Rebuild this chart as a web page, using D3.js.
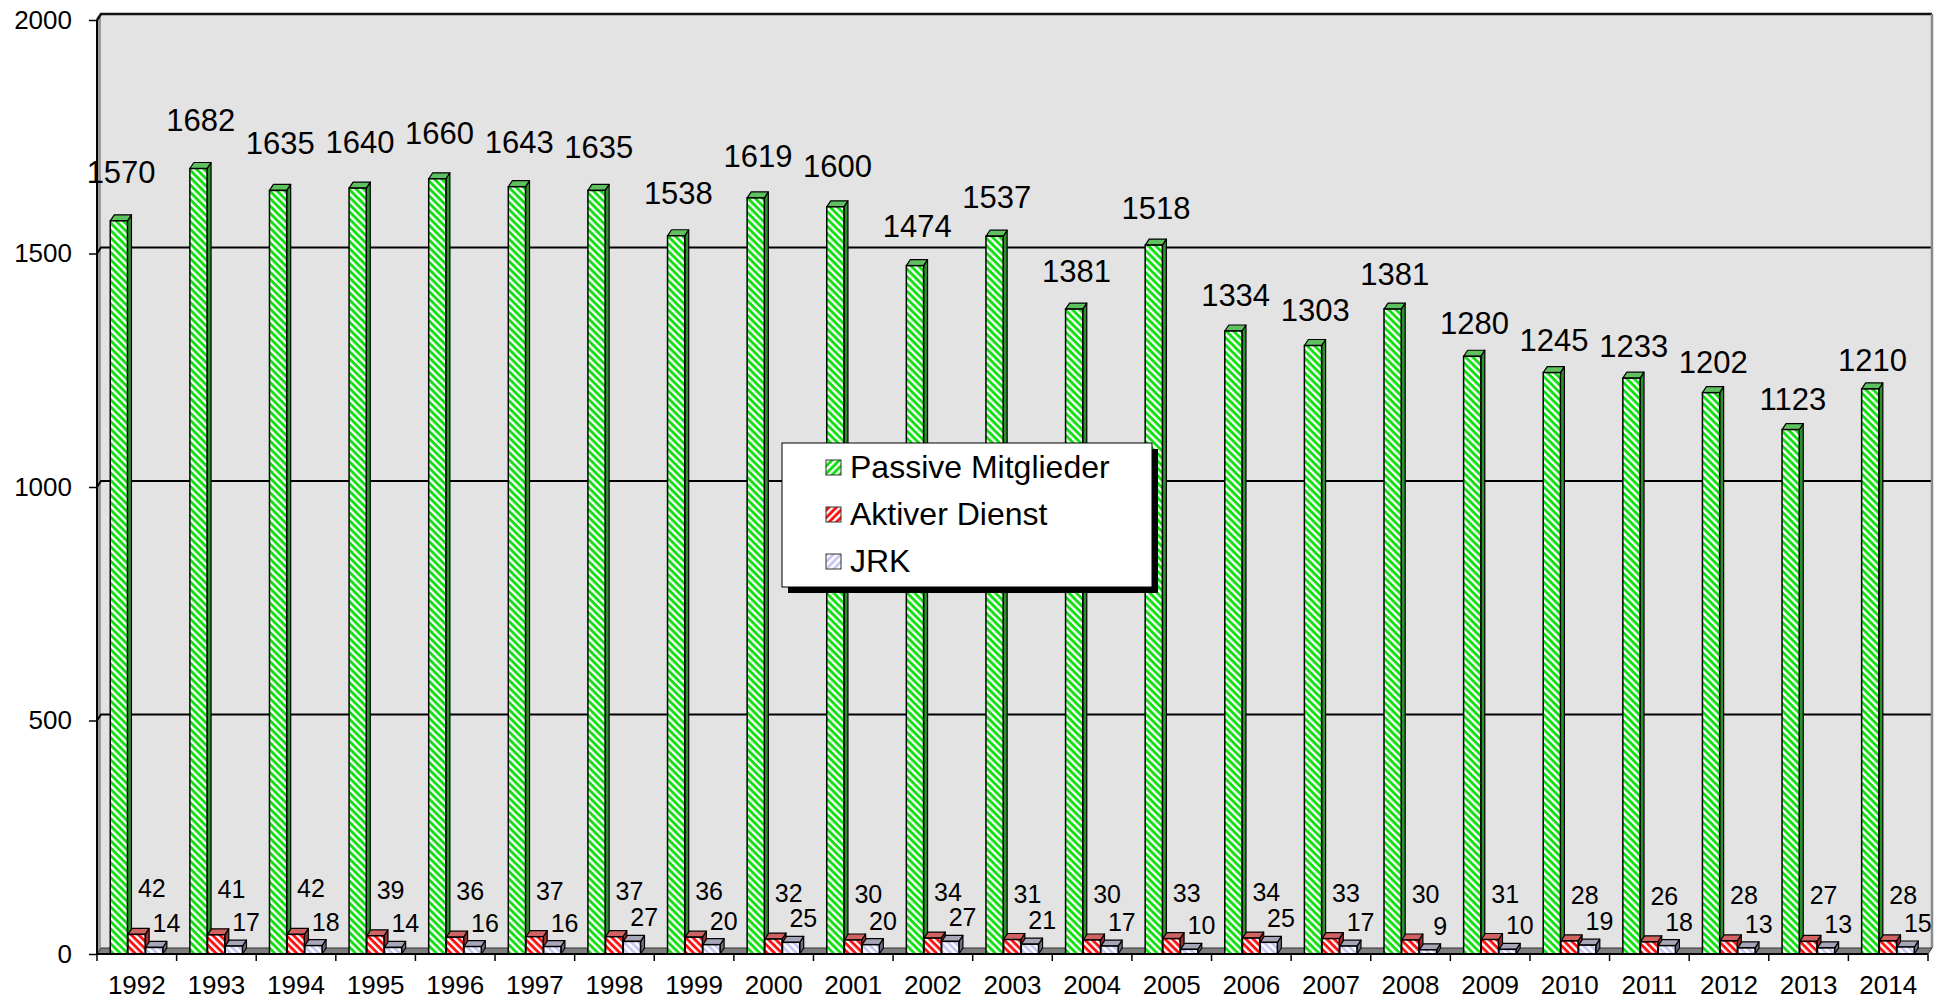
<!DOCTYPE html>
<html>
<head>
<meta charset="utf-8">
<script src="https://cdn.jsdelivr.net/npm/d3@7"></script>
<style>
  html, body { margin: 0; padding: 0; background: #ffffff; }
  svg { display: block; font-family: "Liberation Sans", Arial, sans-serif; }
</style>
</head>
<body>
<svg id="chart" width="1941" height="999"></svg>
<script>
const years = ["1992","1993","1994","1995","1996","1997","1998","1999","2000","2001","2002","2003","2004","2005","2006","2007","2008","2009","2010","2011","2012","2013","2014"];
const passive = [1570,1682,1635,1640,1660,1643,1635,1538,1619,1600,1474,1537,1381,1518,1334,1303,1381,1280,1245,1233,1202,1123,1210];
const aktiv = [42,41,42,39,36,37,37,36,32,30,34,31,30,33,34,33,30,31,28,26,28,27,28];
const jrk = [14,17,18,14,16,16,27,20,25,20,27,21,17,10,25,17,9,10,19,18,13,13,15];
const seriesNames = ["Passive Mitglieder","Aktiver Dienst","JRK"];
const yTicks = [0,500,1000,1500,2000];

const seriesValues = [passive, aktiv, jrk];
const seriesStyle = [
  {base:"#10e010", top:"#5fc05f", side:"#2f8f2f", labelSize:31, ldx:2,  gap: i => 38 - 0.9 * i},
  {base:"#ff1010", top:"#d06262", side:"#9a2f2f", labelSize:25, ldx:15, gap: () => 37},
  {base:"#c8c8f4", top:"#a6a6b8", side:"#6e6e80", labelSize:25, ldx:12, gap: () => 15}
];

const svg = d3.select("#chart");
const X0 = 97, X1 = 1928, Y0 = 954, Y1 = 20;
const DX = 4, DY = -6;

const x = d3.scaleBand().domain(years).range([X0, X1]).paddingInner(0).paddingOuter(0);
const xs = d3.scaleBand().domain(seriesNames).range([0, x.bandwidth()]).paddingInner(0).paddingOuter(0.75);
const y = d3.scaleLinear().domain([0, 2000]).range([Y0, Y1]);

// patterns
const defs = svg.append("defs");
function makePattern(id, color, rot) {
  const p = defs.append("pattern").attr("id", id).attr("patternUnits", "userSpaceOnUse")
    .attr("width", 5.2).attr("height", 5.2).attr("patternTransform", `rotate(${rot})`);
  p.append("rect").attr("width", 5.2).attr("height", 5.2).attr("fill", color);
  p.append("rect").attr("width", 2.3).attr("height", 5.2).attr("fill", "#ffffff");
}
seriesStyle.forEach((s, i) => {
  makePattern("bar" + i, s.base, -45);
  makePattern("leg" + i, s.base, 45);
});

// back wall
const wallL = X0 + DX, wallR = X1 + DX;
svg.append("rect").attr("x", wallL).attr("y", y(2000) + DY).attr("width", wallR - wallL).attr("height", y(0) - y(2000))
  .attr("fill", "#e3e3e3");
// left side wall
svg.append("path").attr("d", `M${X0},${y(2000)} L${wallL},${y(2000)+DY} L${wallL},${y(0)+DY} L${X0},${y(0)} Z`)
  .attr("fill", "#9a9a9a");
// gridlines on wall
svg.append("g").selectAll("path").data(yTicks.filter(t => t > 0 && t < 2000)).join("path")
  .attr("d", t => `M${X0},${y(t)} L${wallL},${y(t)+DY} L${wallR},${y(t)+DY}`)
  .attr("fill", "none").attr("stroke", "#000").attr("stroke-width", 2);
// wall top edge
svg.append("path").attr("d", `M${X0},${y(2000)} L${wallL},${y(2000)+DY} L${wallR},${y(2000)+DY}`)
  .attr("fill", "none").attr("stroke", "#111").attr("stroke-width", 2.5);
// wall right edge
svg.append("line").attr("x1", wallR).attr("x2", wallR).attr("y1", y(2000)+DY).attr("y2", y(0)+DY)
  .attr("stroke", "#8a8a8a").attr("stroke-width", 2.5);
// floor
svg.append("path").attr("d", `M${X0},${y(0)} L${wallL},${y(0)+DY} L${wallR},${y(0)+DY} L${X1},${y(0)} Z`)
  .attr("fill", "#7f7f7f").attr("stroke", "#333").attr("stroke-width", 1);

// bars
const gBars = svg.append("g");
years.forEach((yr, i) => {
  seriesNames.forEach((sn, k) => {
    const v = seriesValues[k][i];
    const st = seriesStyle[k];
    const bx = x(yr) + xs(sn), bw = xs.bandwidth() - 0.5;
    const by = y(v), bb = y(0);
    const g = gBars.append("g");
    g.append("path").attr("d", `M${bx+bw},${by} L${bx+bw+DX},${by+DY} L${bx+bw+DX},${bb+DY} L${bx+bw},${bb} Z`)
      .attr("fill", st.side).attr("stroke", "#000").attr("stroke-width", 1.2).attr("stroke-linejoin", "round");
    g.append("path").attr("d", `M${bx},${by} L${bx+DX},${by+DY} L${bx+bw+DX},${by+DY} L${bx+bw},${by} Z`)
      .attr("fill", st.top).attr("stroke", "#000").attr("stroke-width", 1.2).attr("stroke-linejoin", "round");
    g.append("rect").attr("x", bx).attr("y", by).attr("width", bw).attr("height", bb - by)
      .attr("fill", `url(#bar${k})`).attr("stroke", "#000").attr("stroke-width", 1.5);
  });
});

// axes lines
svg.append("line").attr("x1", X0).attr("x2", X0).attr("y1", y(2000)).attr("y2", y(0))
  .attr("stroke", "#000").attr("stroke-width", 2);
svg.append("line").attr("x1", X0).attr("x2", X1).attr("y1", y(0)).attr("y2", y(0))
  .attr("stroke", "#000").attr("stroke-width", 2);

// y axis
const yAxis = d3.axisLeft(y).tickValues(yTicks).tickSize(8).tickPadding(17).tickFormat(d3.format("d"));
const gy = svg.append("g").attr("transform", `translate(${X0},0)`).call(yAxis);
gy.select(".domain").remove();
gy.selectAll(".tick line").attr("stroke", "#000").attr("stroke-width", 1.5);
gy.selectAll(".tick text").attr("font-size", 26).attr("fill", "#000")
  .attr("font-family", "'Liberation Sans', Arial, sans-serif");

// x axis
const xAxis = d3.axisBottom(x).tickSize(0).tickPadding(22);
const gx = svg.append("g").attr("transform", `translate(0,${Y0})`).call(xAxis);
gx.select(".domain").remove();
gx.selectAll(".tick text").attr("font-size", 26).attr("fill", "#000")
  .attr("font-family", "'Liberation Sans', Arial, sans-serif");
// category boundary ticks
svg.append("g").selectAll("line").data(years.concat(["__end"])).join("line")
  .attr("x1", d => d === "__end" ? X1 : x(d)).attr("x2", d => d === "__end" ? X1 : x(d))
  .attr("y1", Y0).attr("y2", Y0 + 7).attr("stroke", "#000").attr("stroke-width", 1.5);

// labels
const gLab = svg.append("g");
years.forEach((yr, i) => {
  seriesNames.forEach((sn, k) => {
    const v = seriesValues[k][i];
    const st = seriesStyle[k];
    const cx = x(yr) + xs(sn) + xs.bandwidth() / 2;
    gLab.append("text").attr("x", cx + st.ldx).attr("y", y(v) - st.gap(i))
      .attr("text-anchor", "middle").attr("font-size", st.labelSize).attr("fill", "#000")
      .text(v);
  });
});

// legend
const LX = 782, LY = 443, LW = 370, LH = 144;
const gl = svg.append("g");
gl.append("rect").attr("x", LX + 6).attr("y", LY + 6).attr("width", LW).attr("height", LH).attr("fill", "#000");
gl.append("rect").attr("x", LX).attr("y", LY).attr("width", LW).attr("height", LH)
  .attr("fill", "#fff").attr("stroke", "#000").attr("stroke-width", 1);
seriesNames.forEach((sn, k) => {
  const ry = LY + 17 + k * 47;
  gl.append("rect").attr("x", LX + 44).attr("y", ry).attr("width", 15).attr("height", 15)
    .attr("fill", `url(#leg${k})`).attr("stroke", "#333").attr("stroke-width", 1);
  gl.append("text").attr("x", LX + 68).attr("y", ry + 18).attr("font-size", 32).attr("fill", "#000").text(sn);
});
</script>
</body>
</html>
